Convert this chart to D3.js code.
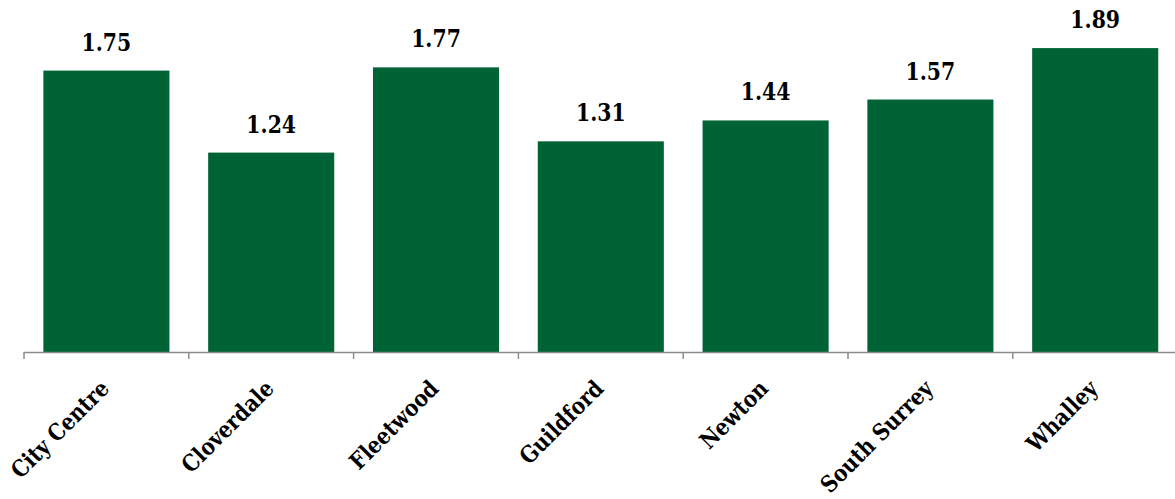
<!DOCTYPE html>
<html><head><meta charset="utf-8">
<script src="https://cdn.jsdelivr.net/npm/d3@7"></script>
<style>html,body{margin:0;padding:0;background:#fff;}svg{display:block;}</style>
</head><body>
<svg id="chart" width="1175" height="499"></svg>
<script>
const categories = ["City Centre","Cloverdale","Fleetwood","Guildford","Newton","South Surrey","Whalley"];
const values = [1.75,1.24,1.77,1.31,1.44,1.57,1.89];
const valueLabels = ["1.75","1.24","1.77","1.31","1.44","1.57","1.89"];

const svg = d3.select("#chart");
const x0 = 24, bandW = 164.8;
const x = d3.scaleBand().domain(categories).range([x0, x0 + bandW*categories.length]).paddingInner(0.235).paddingOuter(0.1175);
const y = d3.scaleLinear().domain([0, 2.189]).range([352, 0]);

svg.selectAll("rect.bar").data(values).join("rect")
  .attr("class","bar")
  .attr("x",(d,i)=>x(categories[i]))
  .attr("y",d=>y(d))
  .attr("width",x.bandwidth())
  .attr("height",d=>y(0)-y(d))
  .attr("fill","#006335");

svg.append("line").attr("x1",x0).attr("x2",1175).attr("y1",y(0)+0.5).attr("y2",y(0)+0.5)
  .attr("stroke","#8c8c8c").attr("stroke-width",1.5);
const bounds = d3.range(categories.length+1).map(i=>x0 + i*bandW);
svg.selectAll("line.tick").data(bounds).join("line").attr("class","tick")
  .attr("x1",d=>d).attr("x2",d=>d).attr("y1",y(0)).attr("y2",y(0)+7)
  .attr("stroke","#8c8c8c").attr("stroke-width",1.5);

svg.selectAll("text.val").data(values).join("text").attr("class","val")
  .attr("transform",(d,i)=>`translate(${x(categories[i])+x.bandwidth()/2},${y(d)-20}) scale(0.85,1)`)
  .attr("text-anchor","middle")
  .attr("font-family","'DejaVu Serif', serif").attr("font-weight","bold").attr("font-size",24)
  .attr("fill","#000")
  .text((d,i)=>valueLabels[i]);

svg.selectAll("text.cat").data(categories).join("text").attr("class","cat")
  .attr("transform",d=>`translate(${x(d)+x.bandwidth()/2+4},390) rotate(-45) scale(0.87,1)`)
  .attr("text-anchor","end")
  .attr("font-family","'DejaVu Serif', serif").attr("font-weight","bold").attr("font-size",23)
  .attr("fill","#000")
  .text(d=>d);
</script>
</body></html>
